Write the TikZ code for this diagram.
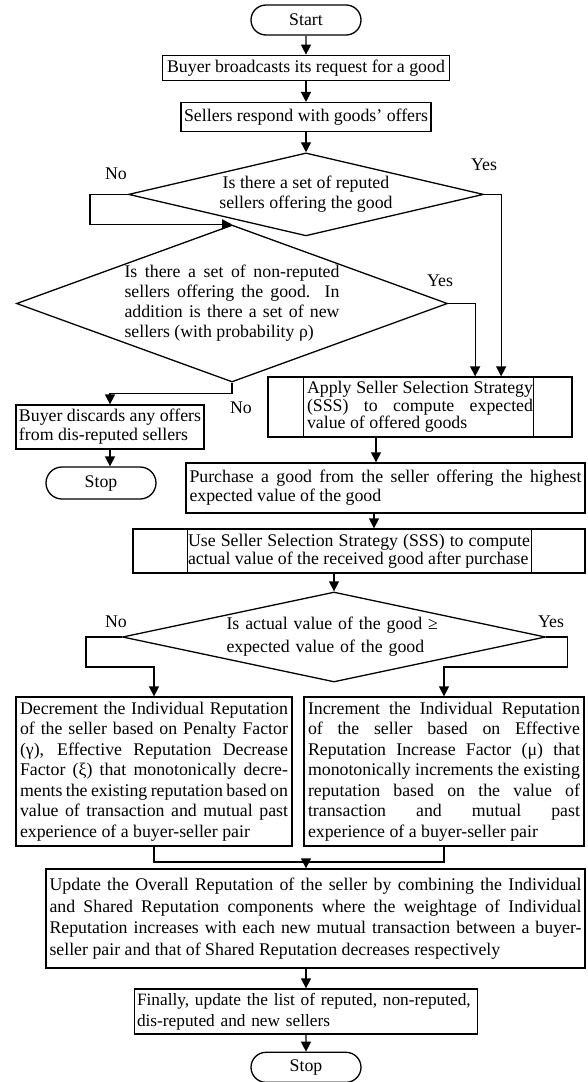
\documentclass[tikz,border=0pt]{standalone}
\usepackage{fontspec}
\setmainfont{Liberation Serif}
\usepackage{tikz}
\usetikzlibrary{positioning}
\usetikzlibrary{shapes.geometric,shapes.misc,arrows.meta}

\begin{document}
\begin{tikzpicture}[x=1pt, y=-1pt, line width=1.3pt, font=\fontsize{17.8}{20}\selectfont,
            term/.style = {draw, rounded rectangle, minimum width=110pt, minimum height=30pt, inner sep=0pt},
            box/.style = {draw, rectangle, inner sep=3pt},
            proc/.style = {draw, rectangle, inner sep=3pt, align=justify},
            dec/.style = {draw, diamond, inner sep=0pt},
            lbl/.style = {inner sep=0pt},
            arr/.style = {-{Triangle[length=10pt,width=10pt]}}]
            \useasboundingbox (0,0) rectangle (588,1082);
            % Nodes
            \node[term] (start) at (306,20) {Start};
            \node[box, minimum width=287pt, minimum height=25pt] (bcast) [below=19pt of start] {Buyer broadcasts its request for a good};
            \node[box, minimum width=246pt, minimum height=29pt] (resp) [below=21pt of bcast] {Sellers respond with goods’ offers};
            \node[dec, minimum width=355pt, minimum height=83pt] (q1) [below=20pt of resp] {};
            \node[align=center] (q1txt) at (q1) {Is there a set of reputed\\sellers offering the good};
            \node[dec, minimum width=431pt, minimum height=157pt] (q2) at (232,303.5) {};
            \node[text width=215pt, align=justify] (q2txt) at (q2) {Is there a set of non-reputed\linebreak sellers offering the good. In\linebreak addition is there a set of new\linebreak sellers (with probability ρ)};
            \node[proc, text width=182pt, minimum width=188pt, minimum height=44pt, font=\fontsize{17.8}{19}\selectfont] (disc) at (110,427) {Buyer discards any offers\linebreak from dis-reputed sellers};
            \node[term, minimum height=32pt] (stop1) at (101,483) {Stop};
            \node[proc, text width=226pt, minimum width=304pt, minimum height=60pt, font=\fontsize{17.8}{17.5}\selectfont] (apply) at (420,407) {Apply Seller Selection Strategy\linebreak (SSS) to compute expected\linebreak value of offered goods};
            \node[proc, text width=392pt, minimum width=399pt, minimum height=50pt, font=\fontsize{17.8}{19}\selectfont] (buy) at (385.5,488) {Purchase a good from the seller offering the highest\linebreak expected value of the good};
            \node[proc, text width=342pt, minimum width=452pt, minimum height=44pt, font=\fontsize{17.8}{18}\selectfont] (use) at (359,551) {Use Seller Selection Strategy (SSS) to compute\linebreak actual value of the received good after purchase};
            \node[dec, minimum width=423pt, minimum height=90pt] (q3) at (334,637) {};
            \node[text width=215pt, align=left, font=\fontsize{17.8}{23}\selectfont] (q3txt) at (q3) {Is actual value of the good ≥\\expected value of the good};
            \node[proc, text width=268pt, minimum width=276pt, minimum height=149pt, font=\fontsize{17.8}{20.5}\selectfont] (decr) at (154,771.5) {Decrement the Individual Reputation\linebreak of the seller based on Penalty Factor\linebreak (γ), Effective Reputation Decrease\linebreak Factor (ξ) that monotonically decre-\linebreak ments the existing reputation based on\linebreak value of transaction and mutual past\linebreak experience of a buyer-seller pair};
            \node[proc, text width=272pt, minimum width=280pt, minimum height=149pt, font=\fontsize{17.8}{20.5}\selectfont] (incr) at (444,771.5) {Increment the Individual Reputation\linebreak of the seller based on Effective\linebreak Reputation Increase Factor (μ) that\linebreak monotonically increments the existing\linebreak reputation based on the value of\linebreak transaction and mutual past\linebreak experience of a buyer-seller pair};
            \node[proc, text width=532pt, minimum width=539pt, minimum height=99pt, font=\fontsize{17.8}{21.5}\selectfont] (upd) at (315.5,918.5) {Update the Overall Reputation of the seller by combining the Individual\linebreak and Shared Reputation components where the weightage of Individual\linebreak Reputation increases with each new mutual transaction between a buyer-\linebreak seller pair and that of Shared Reputation decreases respectively};
            \node[proc, text width=338pt, minimum width=343pt, minimum height=45pt, inner sep=2.5pt, align=left, font=\fontsize{17.3}{21.5}\selectfont] (fin) at (306,1011.5) {Finally, update the list of reputed, non-reputed,\\dis-reputed and new sellers};
            \node[term] (stop2) [below=17pt of fin] {Stop};
            % Labels
            \node[lbl] (no1) at (116,174) {No};
            \node[lbl] (yes1) at (484,165) {Yes};
            \node[lbl] (yes2) at (440,281) {Yes};
            \node[lbl] (no2) at (241,408) {No};
            \node[lbl] (no3) at (116,622) {No};
            \node[lbl] (yes3) at (551,622) {Yes};
            % Sub-process bars
            \draw ([xshift=36pt]apply.north west) -- ([xshift=36pt]apply.south west);
            \draw ([xshift=-39pt]apply.north east) -- ([xshift=-39pt]apply.south east);
            \draw ([xshift=55pt]use.north west) -- ([xshift=55pt]use.south west);
            \draw ([xshift=-54pt]use.north east) -- ([xshift=-54pt]use.south east);
            % Edges
            \draw[arr] (start) -- (bcast);
            \draw[arr] (bcast) -- (resp);
            \draw[arr] (resp) -- (q1);
            \draw[arr] (q1.west) -- ++(-38,0) |- (q2.north);
            \draw[arr] (q1.east) -- ++(17,0) coordinate (r1) -- (r1 |- apply.north);
            \draw[arr] (q2.east) -- ++(27,0) coordinate (r2) -- (r2 |- apply.north);
            \draw[arr] (q2.south) -- ++(0,11) -| (disc.north);
            \draw[arr] (disc.south) -- (disc.south |- stop1.north);
            \draw[arr] ([xshift=-44pt]apply.south) -- ([xshift=-44pt]apply.south |- buy.north);
            \draw[arr] ([xshift=-11.5pt]buy.south) -- ([xshift=-11.5pt]buy.south |- use.north);
            \draw[arr] (use.south -| q3.north) -- (q3.north);
            \draw[arr] (q3.west) -- ++(-36,0) -- ++(0,30) -| (decr.north);
            \draw[arr] (q3.east) -- ++(21,0) -- ++(0,30) -| (incr.north);
            \coordinate (j) at (306,862);
            \draw (decr.south) |- (j) -| (incr.south);
            \draw[arr] (j) -- (j |- upd.north);
            \draw[arr] (upd.south -| fin.north) -- (fin.north);
            \draw[arr] (fin) -- (stop2);
            \end{tikzpicture}
\end{document}
